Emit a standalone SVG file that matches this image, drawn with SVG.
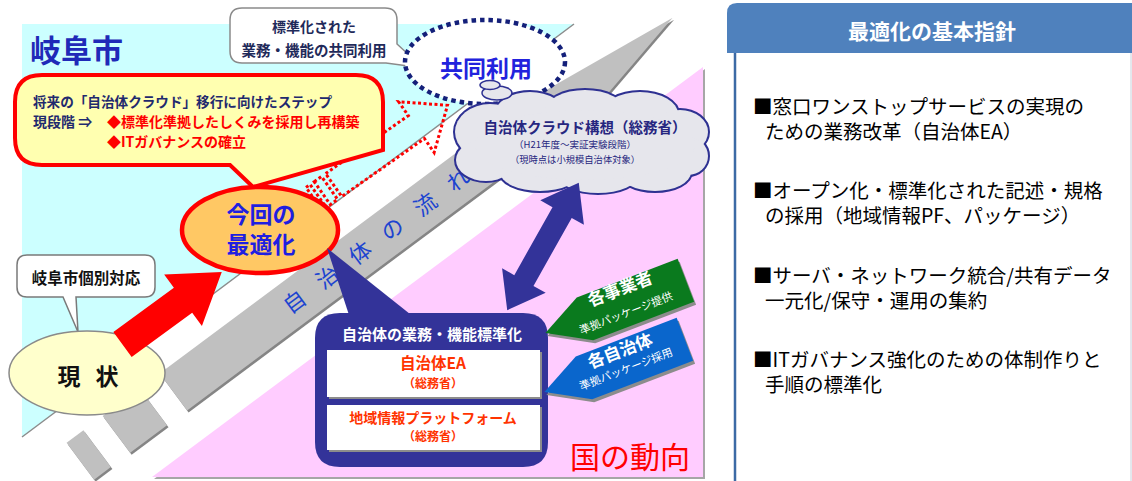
<svg xmlns="http://www.w3.org/2000/svg" xmlns:xlink="http://www.w3.org/1999/xlink" width="1132" height="481" viewBox="0 0 1132 481">
<style>
  text { font-family: "Noto Sans CJK JP", "Noto Sans", sans-serif; }
  .b { font-weight: bold; }
  .navy { fill: #1f2a6e; }
  .red { fill: #ff0000; }
  .blue { fill: #1f1fe0; }
  .white { fill: #ffffff; }
  .band { fill: #c0c0c0; }
  .bandshadow { fill: #858585; }
  .panel { fill: #000000; font-size: 19.5px; }
  .dotred { fill: none; stroke: #ff0000; stroke-width: 3; stroke-dasharray: 3 2.5; }
</style>
<defs>
  <g id="cloudShape">
    <ellipse cx="490" cy="132" rx="35" ry="28"/>
    <ellipse cx="530" cy="114" rx="35" ry="22"/>
    <ellipse cx="585" cy="111" rx="40" ry="21"/>
    <ellipse cx="640" cy="114" rx="38" ry="22"/>
    <ellipse cx="680" cy="132" rx="28" ry="22"/>
    <ellipse cx="688" cy="156" rx="20" ry="19"/>
    <ellipse cx="655" cy="172" rx="36" ry="19"/>
    <ellipse cx="598" cy="175" rx="40" ry="18"/>
    <ellipse cx="540" cy="172" rx="40" ry="19"/>
    <ellipse cx="486" cy="160" rx="30" ry="21"/>
    <ellipse cx="585" cy="145" rx="110" ry="35"/>
  </g>
  <g id="bandShape">
    <polygon points="-95,395 355,395 529,416 419,441 -95,441"/>
    <polygon points="-166,395 -120,395 -120,441 -166,441"/>
    <polygon points="-211,395 -190,395 -190,441 -211,441"/>
  </g>
  <polygon id="pent" points="390,506 432,484 540,484 540,530 432,530"/>
</defs>

<rect x="0" y="0" width="1132" height="481" fill="#ffffff"/>

<!-- background regions -->
<g id="region-gifu">
  <polygon points="22,24 574,24 22,437" fill="#ccffff"/>
  <line x1="574" y1="24" x2="22" y2="437" stroke="#8c8c8c" stroke-width="1.5"/>
</g>
<g id="region-kuni">
  <polygon points="705,69 705,479 154,479" fill="#a6a6a6"/>
  <polygon points="703,67 703,477 152,477" fill="#ffccff"/>
</g>

<!-- flow band -->
<g id="flow-band">
  <use xlink:href="#bandShape" class="bandshadow" transform="translate(1.5,2) matrix(0.802 -0.597 0.597 0.802 0 0)"/>
  <use xlink:href="#bandShape" class="band" transform="matrix(0.802 -0.597 0.597 0.802 0 0)"/>
  <text transform="matrix(0.802 -0.597 0.597 0.802 0 0)" x="56 97 138 178 219 260" y="426" text-anchor="middle" font-size="22" fill="#1c44d0">自治体の流れ</text>
</g>

<!-- label 岐阜市 -->
<g id="label-gifu">
  <text x="30" y="62" font-size="31" class="b" fill="#1f2ab8">岐阜市</text>
</g>

<!-- connectors -->
<g id="connectors">
  <g transform="matrix(0.819 -0.574 0.574 0.819 0 0)">
    <path class="dotred" d="M167,329 H268 V312 L306,343 L268,374 V357 H167 Z"/>
    <rect class="dotred" x="143" y="329" width="5" height="28"/>
    <rect class="dotred" x="153" y="329" width="9" height="28"/>
  </g>
</g>

<!-- top bubble -->
<g id="bubble-hyoujunka">
  <path d="M242,8 H385 Q397,8 397,20 V44 L423,68 L386,63 H242 Q230,63 230,51 V20 Q230,8 242,8 Z" fill="#ffffff" stroke="#8a8a8a" stroke-width="1.5"/>
  <text x="314" y="32" font-size="14" class="b" fill="#1f2a5a" text-anchor="middle">標準化された</text>
  <text x="314" y="56" font-size="14.5" class="b" fill="#1f2a5a" text-anchor="middle">業務・機能の共同利用</text>
</g>

<!-- 共同利用 dotted ellipse -->
<g id="node-kyoudouriyou">
  <ellipse cx="485" cy="62" rx="80" ry="42" fill="#ffffff" stroke="#14207a" stroke-width="4.5" stroke-dasharray="4.5 4"/>
  <text x="486" y="77" font-size="23" class="b" fill="#2222dd" text-anchor="middle">共同利用</text>
</g>

<!-- cloud -->
<g id="node-cloud">
  <use xlink:href="#cloudShape" fill="#e6e6ec" stroke="#2e3192" stroke-width="4"/>
  <use xlink:href="#cloudShape" fill="#e6e6ec"/>
  <ellipse cx="497" cy="93" rx="15" ry="7" fill="#e6e6ec" stroke="#2e3192" stroke-width="1.5"/>
  <ellipse cx="490" cy="85" rx="10" ry="4.5" fill="#e6e6ec" stroke="#2e3192" stroke-width="1.5"/>
  <text x="585" y="133" font-size="14.5" class="b" fill="#262680" text-anchor="middle">自治体クラウド構想（総務省）</text>
  <text x="575" y="148" font-size="9.5" fill="#262680" text-anchor="middle">（H21年度～実証実験段階）</text>
  <text x="575" y="163" font-size="9.3" fill="#262680" text-anchor="middle">（現時点は小規模自治体対象）</text>
</g>

<!-- yellow callout -->
<g id="bubble-step">
  <path d="M42,75 H356 Q383,75 383,102 V150 L253,187 L230,165 H42 Q15,165 15,138 V102 Q15,75 42,75 Z" fill="#ffffb0" stroke="#ff0000" stroke-width="4"/>
  <text x="33" y="107" font-size="13.6" class="b navy">将来の「自治体クラウド」移行に向けたステップ</text>
  <text x="33" y="127" font-size="14" class="b navy">現段階 ⇒ <tspan x="107" class="red">◆標準化準拠したしくみを採用し再構築</tspan></text>
  <text x="107" y="147" font-size="14" class="b red">◆ITガバナンスの確立</text>
</g>

<!-- 岐阜市個別対応 bubble -->
<g id="bubble-kobetsu">
  <path d="M27,255 H145 Q155,255 155,265 V287 Q155,297 145,297 H76 L78,332 L63,297 H27 Q17,297 17,287 V265 Q17,255 27,255 Z" fill="#ffffff" stroke="#7a7a7a" stroke-width="1.5"/>
  <text x="86" y="284" font-size="15.5" class="b" fill="#111111" text-anchor="middle">岐阜市個別対応</text>
</g>

<!-- 現状 -->
<g id="node-genjou">
  <ellipse cx="87" cy="373" rx="78" ry="42" fill="#ffffcc" stroke="#8a8a8a" stroke-width="1.5"/>
  <text x="88" y="385" font-size="23" class="b" fill="#111111" text-anchor="middle" word-spacing="10">現 状</text>
</g>

<!-- red arrow -->
<g id="arrow-red">
  <polygon transform="matrix(0.807 -0.59 0.59 0.807 122.5 344.5)" points="0,-15.5 75,-15.5 75,-32 123,0 75,32 75,15.5 0,15.5" fill="#ff0000"/>
</g>

<!-- 今回の最適化 -->
<g id="node-saitekika">
  <ellipse cx="260" cy="230" rx="78" ry="43" fill="#ffc864" stroke="#ff0000" stroke-width="4.5"/>
  <text x="261" y="223" font-size="23" class="b blue" text-anchor="middle">今回の</text>
  <text x="261" y="253" font-size="23" class="b blue" text-anchor="middle">最適化</text>
</g>

<!-- navy callout box -->
<g id="node-hyoujunka">
  <polygon points="327,248 350,318 415,318" fill="#333399"/>
  <path d="M340,313 H523 Q548,313 548,338 V442 Q548,467 523,467 H340 Q315,467 315,442 V338 Q315,313 340,313 Z" fill="#333399"/>
  <text x="432" y="340" font-size="15" class="b white" text-anchor="middle">自治体の業務・機能標準化</text>
  <rect x="329" y="352" width="213" height="47" fill="#8c8c8c"/>
  <rect x="327" y="350" width="213" height="47" fill="#ffffff"/>
  <text x="433" y="369" font-size="15.5" class="b" fill="#ff3300" text-anchor="middle">自治体EA</text>
  <text x="433" y="388" font-size="12" class="b" fill="#ff3300" text-anchor="middle">（総務省）</text>
  <rect x="329" y="407" width="213" height="45" fill="#8c8c8c"/>
  <rect x="327" y="405" width="213" height="45" fill="#ffffff"/>
  <text x="433" y="423" font-size="14" class="b" fill="#ff3300" text-anchor="middle">地域情報プラットフォーム</text>
  <text x="433" y="441" font-size="12" class="b" fill="#ff3300" text-anchor="middle">（総務省）</text>
</g>

<!-- double arrow -->
<g id="arrow-double">
  <polygon transform="matrix(0.49 -0.872 0.872 0.49 518 291)" points="-22,0 12,-25 12,-11 90,-11 90,-25 124,0 90,25 90,11 12,11 12,25" fill="#333399"/>
</g>

<!-- 各事業者 -->
<g id="node-jigyousha">
  <use xlink:href="#pent" fill="#8c8c8c" transform="translate(2,3) matrix(0.934 -0.358 0.358 0.934 0 0)"/>
  <use xlink:href="#pent" fill="#0a7a1e" transform="matrix(0.934 -0.358 0.358 0.934 0 0)"/>
  <text transform="translate(620,289) rotate(-21)" y="6" font-size="17" class="b white" text-anchor="middle">各事業者</text>
  <text transform="translate(626,313) rotate(-21)" y="4" font-size="11" class="white" text-anchor="middle">準拠パッケージ提供</text>
</g>

<!-- 各自治体 -->
<g id="node-jichitai">
  <use xlink:href="#pent" fill="#8c8c8c" transform="translate(1,62) matrix(0.934 -0.358 0.358 0.934 0 0)"/>
  <use xlink:href="#pent" fill="#0a66cc" transform="translate(-1,59) matrix(0.934 -0.358 0.358 0.934 0 0)"/>
  <text transform="translate(620,351) rotate(-21)" y="6" font-size="17" class="b white" text-anchor="middle">各自治体</text>
  <text transform="translate(626,369) rotate(-21)" y="4" font-size="11" class="white" text-anchor="middle">準拠パッケージ採用</text>
</g>

<!-- 国の動向 -->
<g id="label-kuni">
  <text x="570" y="468" font-size="30" class="red">国の動向</text>
</g>

<!-- right panel -->
<g id="panel-shishin">
  <line x1="735" y1="53" x2="735" y2="481" stroke="#3c6aa5" stroke-width="2.5"/>
  <line x1="1131" y1="53" x2="1131" y2="481" stroke="#c8d0dc" stroke-width="1"/>
  <path d="M727,53 V13 Q727,3 737,3 H1132 V53 Z" fill="#4f81bd"/>
  <text x="932" y="39" font-size="21" class="b white" text-anchor="middle">最適化の基本指針</text>
  <text x="753" y="114" class="panel">■窓口ワンストップサービスの実現の</text>
  <text x="765" y="139" class="panel">ための業務改革（自治体EA）</text>
  <text x="753" y="198" class="panel">■オープン化・標準化された記述・規格</text>
  <text x="765" y="223" class="panel">の採用（地域情報PF、パッケージ）</text>
  <text x="753" y="283" class="panel">■サーバ・ネットワーク統合/共有データ</text>
  <text x="765" y="308" class="panel">一元化/保守・運用の集約</text>
  <text x="753" y="367" class="panel">■ITガバナンス強化のための体制作りと</text>
  <text x="765" y="392" class="panel">手順の標準化</text>
</g>
</svg>
